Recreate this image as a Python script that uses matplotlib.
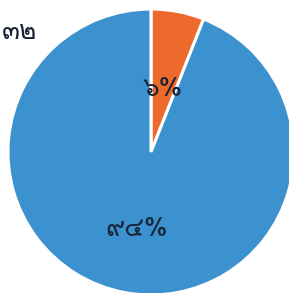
import matplotlib
matplotlib.use('Agg')
import matplotlib.pyplot as plt
import numpy as np

# data
categories = ['ส่วนน้อย', 'ส่วนใหญ่']
values = [6, 94]
colors = ['#ee6a2c', '#3b92ce']
label_dist = [0.45, 0.55]
title_text = '๓๒'

thai = str.maketrans('0123456789', '๐๑๒๓๔๕๖๗๘๙')

W, H = 289, 293
fig = plt.figure(figsize=(W / 100, H / 100), dpi=100)
ax = fig.add_axes([0, 0, 1, 1])
ax.set_xlim(0, W)
ax.set_ylim(0, H)
ax.axis('off')

cx, cy, r = 151, H - 152, 143
wedges, _ = ax.pie(values, colors=colors, startangle=90, counterclock=False,
                   center=(cx, cy), radius=r,
                   wedgeprops=dict(edgecolor='white', linewidth=2.2))
ax.set_xlim(0, W)
ax.set_ylim(0, H)
ax.set_aspect('equal')

for w, v, d in zip(wedges, values, label_dist):
    ang = np.deg2rad((w.theta1 + w.theta2) / 2)
    ax.text(cx + d * r * np.cos(ang), cy + d * r * np.sin(ang),
            f'{v}%'.translate(thai), ha='center', va='center',
            fontsize=19, color='#1b2436', family=['Loma', 'DejaVu Sans'])

fig.text(2 / W, 1 - 32 / H, title_text, ha='left', va='center', fontsize=19,
         color='#1b2436', family=['Loma', 'DejaVu Sans'])

fig.savefig('out.png', dpi=100)
